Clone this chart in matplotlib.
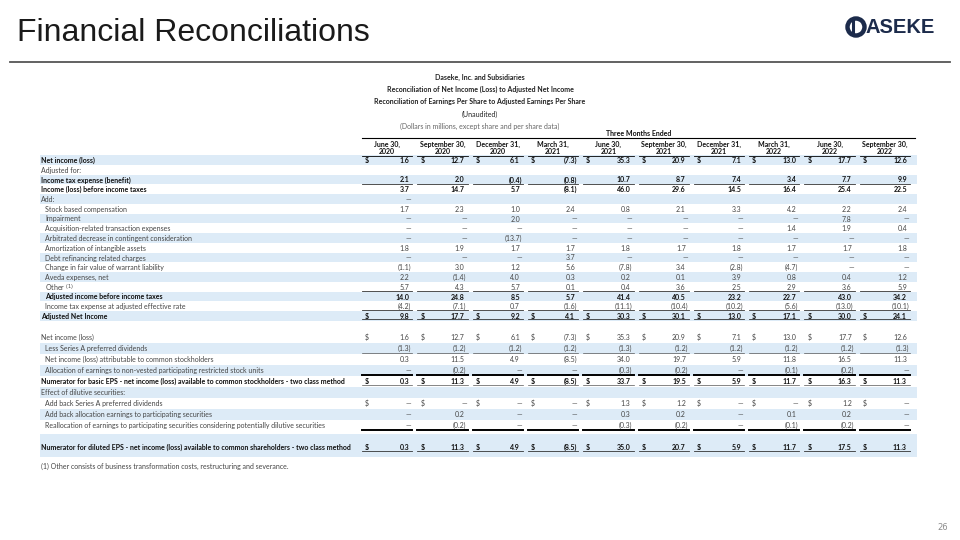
# -*- coding:utf-8 -*-
import matplotlib
matplotlib.use("Agg")
import matplotlib.pyplot as plt
from matplotlib.patches import Rectangle, Circle

# column headers (three months ended)
period_month = ["June 30,", "September 30,", "December 31,", "March 31,", "June 30,",
                "September 30,", "December 31,", "March 31,", "June 30,", "September 30,"]
period_year = ["2020", "2020", "2020", "2021", "2021", "2021", "2021", "2022", "2022", "2022"]

# section 1 - net income to adjusted net income (None = dash)
net_income = [1.6, 12.7, 6.1, -7.3, 35.3, 20.9, 7.1, 13.0, 17.7, 12.6]
tax_expense = [2.1, 2.0, -0.4, -0.8, 10.7, 8.7, 7.4, 3.4, 7.7, 9.9]
income_before_tax = [3.7, 14.7, 5.7, -8.1, 46.0, 29.6, 14.5, 16.4, 25.4, 22.5]
add_row = [None] + [""] * 9
stock_comp = [1.7, 2.3, 1.0, 2.4, 0.8, 2.1, 3.3, 4.2, 2.2, 2.4]
impairment = [None, None, 2.0, None, None, None, None, None, 7.8, None]
acquisition = [None, None, None, None, None, None, None, 1.4, 1.9, 0.4]
arbitrated = [None, None, -13.7, None, None, None, None, None, None, None]
amortization = [1.8, 1.9, 1.7, 1.7, 1.8, 1.7, 1.8, 1.7, 1.7, 1.8]
debt_refi = [None, None, None, 3.7, None, None, None, None, None, None]
warrant = [-1.1, 3.0, 1.2, 5.6, -7.8, 3.4, -2.8, -4.7, None, None]
aveda = [2.2, -1.4, 4.0, 0.3, 0.2, 0.1, 3.9, 0.8, 0.4, 1.2]
other = [5.7, 4.3, 5.7, 0.1, 0.4, 3.6, 2.5, 2.9, 3.6, 5.9]
adj_before_tax = [14.0, 24.8, 8.5, 5.7, 41.4, 40.5, 23.2, 22.7, 43.0, 34.2]
adj_tax = [-4.2, -7.1, 0.7, -1.6, -11.1, -10.4, -10.2, -5.6, -13.0, -10.1]
adj_net_income = [9.8, 17.7, 9.2, 4.1, 30.3, 30.1, 13.0, 17.1, 30.0, 24.1]

# section 2 - EPS numerators
ni_2 = [1.6, 12.7, 6.1, -7.3, 35.3, 20.9, 7.1, 13.0, 17.7, 12.6]
pref_div = [-1.3, -1.2, -1.2, -1.2, -1.3, -1.2, -1.2, -1.2, -1.2, -1.3]
ni_common = [0.3, 11.5, 4.9, -8.5, 34.0, 19.7, 5.9, 11.8, 16.5, 11.3]
alloc_rsu = [None, -0.2, None, None, -0.3, -0.2, None, -0.1, -0.2, None]
basic_num = [0.3, 11.3, 4.9, -8.5, 33.7, 19.5, 5.9, 11.7, 16.3, 11.3]
blank = [""] * 10
addback_pref = [None, None, None, None, 1.3, 1.2, None, None, 1.2, None]
addback_alloc = [None, 0.2, None, None, 0.3, 0.2, None, 0.1, 0.2, None]
realloc = [None, -0.2, None, None, -0.3, -0.2, None, -0.1, -0.2, None]
diluted_num = [0.3, 11.3, 4.9, -8.5, 35.0, 20.7, 5.9, 11.7, 17.5, 11.3]

section1 = [
    ("Net income (loss)", net_income),
    ("Adjusted for:", blank),
    ("Income tax expense (benefit)", tax_expense),
    ("Income (loss) before income taxes", income_before_tax),
    ("Add:", add_row),
    ("Stock based compensation", stock_comp),
    ("Impairment", impairment),
    ("Acquisition-related transaction expenses", acquisition),
    ("Arbitrated decrease in contingent consideration", arbitrated),
    ("Amortization of intangible assets", amortization),
    ("Debt refinancing related charges", debt_refi),
    ("Change in fair value of warrant liability", warrant),
    ("Aveda expenses, net", aveda),
    ("Other $^{(1)}$", other),
    ("Adjusted income before income taxes", adj_before_tax),
    ("Income tax expense at adjusted effective rate", adj_tax),
    ("Adjusted Net Income", adj_net_income),
]
section2 = [
    ("Net income (loss)", ni_2),
    ("Less Series A preferred dividends", pref_div),
    ("Net income (loss) attributable to common stockholders", ni_common),
    ("Allocation of earnings to non-vested participating restricted stock units", alloc_rsu),
    ("Numerator for basic EPS - net income (loss) available to common stockholders - two class method", basic_num),
    ("Effect of dilutive securities:", blank),
    ("Add back Series A preferred dividends", addback_pref),
    ("Add back allocation earnings to participating securities", addback_alloc),
    ("Reallocation of earnings to participating securities considering potentially dilutive securities", realloc),
]
diluted_label = "Numerator for diluted EPS - net income (loss) available to common shareholders - two class method"

# styles
bold1 = {0, 2, 3, 14, 16}
indent1 = {5, 6, 7, 8, 9, 10, 11, 12, 13, 14, 15}
dollar1 = {0, 16}
thin_under1 = {2, 13, 15}
bold2 = {4}
indent2 = {1, 2, 3, 6, 7, 8}
dollar2 = {0, 4, 6}
thin_under2 = {1, 4}
thick_under2 = {3, 8}

FONT = ["Lato", "DejaVu Sans"]
FS = 5.0
BAND = "#DDEBF7"
TXT = "#454545"
DARK = "#111111"

fig = plt.figure(figsize=(9.6, 5.4), dpi=100)
ax = fig.add_axes([0, 0, 1, 1])
ax.set_xlim(0, 960)
ax.set_ylim(540, 0)
ax.axis("off")

# slide title, logo, rule, page number
ax.text(17, 33, "Financial Reconciliations", fontsize=23, family="Liberation Sans",
        color="#1a1a1a", va="center", ha="left")
ax.plot([10, 950], [62, 62], color="#555555", lw=1.3)
navy = "#1c2b4b"
ax.add_patch(Circle((856, 27), 8.5, facecolor="none", edgecolor=navy, lw=3.2))
ax.plot([853, 853], [21, 33], color=navy, lw=2.2)
ax.text(865, 27.5, "ASEKE", fontsize=14.5, family="Liberation Sans", weight="bold",
        color=navy, va="center", ha="left")
ax.text(948, 527, "26", fontsize=6, color="#8c8c8c", ha="right", va="center")

# table heading
cx = 480
heads = ["Daseke, Inc. and Subsidiaries",
         "Reconciliation of Net Income (Loss) to Adjusted Net Income",
         "Reconciliation of Earnings Per Share to Adjusted Earnings Per Share",
         "(Unaudited)",
         "(Dollars in millions, except share and per share data)"]
for k, h in enumerate(heads):
    ax.text(cx, 77 + k * 12.2, h, fontsize=FS, family=FONT, ha="center",
            va="center_baseline", color="#666666" if k == 4 else "#222222",
            weight="bold" if k < 3 else "normal")

x0, x1 = 40, 917
col_start = 362
col_pitch = (915 - col_start) / 10
col_w = col_pitch - 5
lefts = [col_start + j * col_pitch for j in range(10)]

ax.text((col_start + 915) / 2, 132.5, "Three Months Ended", fontsize=FS, family=FONT,
        weight="bold", ha="center", va="center_baseline", color=DARK)
ax.plot([col_start, 915], [137.5, 137.5], color="black", lw=0.8)
for j in range(10):
    c = lefts[j] + col_w / 2
    ax.text(c, 143.5, period_month[j], fontsize=FS, family=FONT, weight="bold",
            ha="center", va="center_baseline", color=DARK)
    ax.text(c, 151, period_year[j], fontsize=FS, family=FONT, weight="bold",
            ha="center", va="center_baseline", color=DARK)
    ax.plot([lefts[j], lefts[j] + col_w], [155.5, 155.5], color="black", lw=0.6)


def fmt(v):
    if v is None:
        return "\u2014"
    if v == "":
        return ""
    if v < 0:
        return "(%.1f)" % -v
    return "%.1f" % v


def draw_row(y, h, label, vals, band, bold, indent, dollar, color):
    if band:
        ax.add_patch(Rectangle((x0, y - h / 2), x1 - x0, h, facecolor=BAND, edgecolor="none"))
    w = "bold" if bold else "normal"
    ax.text(x0 + 1 + (4 if indent else 0), y, label, fontsize=FS, family=FONT,
            weight=w, ha="left", va="center_baseline", color=color)
    for j, v in enumerate(vals):
        s = fmt(v)
        right = lefts[j] + col_w - 1
        if isinstance(v, float) and v >= 0:
            right -= 2
        ax.text(right, y, s, fontsize=FS, family=FONT, weight=w, ha="right",
                va="center_baseline", color=color)
        if dollar:
            ax.text(lefts[j] + 3, y, "$", fontsize=FS, family=FONT, weight=w,
                    ha="left", va="center_baseline", color=color)


def under(y, lw, color):
    for j in range(10):
        ax.plot([lefts[j], lefts[j] + col_w], [y, y], color=color, lw=lw)


p1 = 9.75
y1 = 160
for i, (lab, vals) in enumerate(section1):
    y = y1 + i * p1
    draw_row(y, p1, lab, vals, i % 2 == 0, i in bold1, i in indent1, i in dollar1,
             DARK if i in bold1 else TXT)
    if i in thin_under1:
        under(y + p1 / 2 - 0.8, 0.6, "#333333")
    if i == 16:
        under(y + 3.4, 0.6, "#333333")

p2 = 11
y2 = 337
for i, (lab, vals) in enumerate(section2):
    y = y2 + i * p2
    draw_row(y, p2, lab, vals, i % 2 == 1, i in bold2, i in indent2, i in dollar2,
             DARK if i in bold2 else TXT)
    if i in thin_under2:
        under(y + (p2 / 2 - 1 if i == 1 else 3.8), 0.5, "#555555")
    if i in thick_under2:
        under(y + p2 / 2 - 0.5, 1.4, "black")

yd = 447
ax.add_patch(Rectangle((x0, 434), x1 - x0, 23, facecolor=BAND, edgecolor="none"))
draw_row(yd, 0, diluted_label, diluted_num, False, True, False, True, DARK)
under(yd + 3.8, 0.6, "#333333")

ax.text(x0 + 1, 466, "(1) Other consists of business transformation costs, restructuring and severance.",
        fontsize=FS, family=FONT, ha="left", va="center_baseline", color=TXT)

fig.savefig("out.png", dpi=100)
